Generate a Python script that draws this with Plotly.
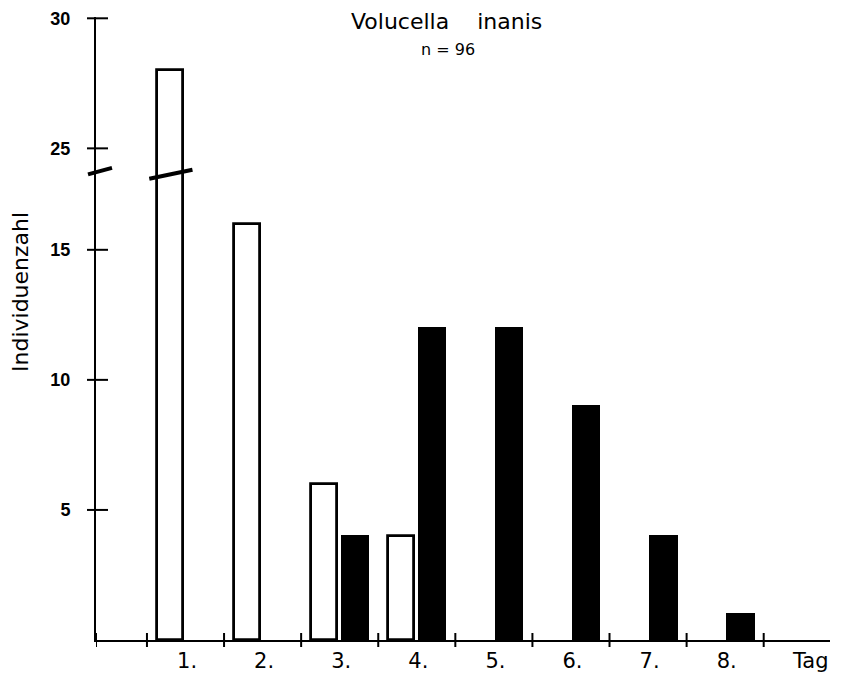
import plotly.graph_objects as go

# ---- data ----
days = [1, 2, 3, 4, 5, 6, 7, 8]
day_labels = ["1.", "2.", "3.", "4.", "5.", "6.", "7.", "8."]
white_days = [1, 2, 3, 4]
white_vals = [28, 16, 6, 4]
black_days = [3, 4, 5, 6, 7, 8]
black_vals = [4, 12, 12, 9, 4, 1]
y_tick_vals = [5, 10, 15, 25, 30]
title_text = "Volucella\u00a0\u00a0\u00a0\u00a0inanis"
subtitle_text = "n = 96"
x_title = "Tag"
y_title = "Individuenzahl"

# ---- broken y scale ----
BREAK_AT = 18      # axis position where the scale is interrupted
GAP = 6.1          # amount of value removed above the break


def ypos(v):
    return v if v <= BREAK_AT else v - GAP


WHITE_OFF, BLACK_OFF, BAR_W = 0.30, 0.70, 0.34
LABEL_SHIFT = 0.48
X_MIN, X_MAX = -0.661, 8.86
Y_MAX = ypos(30) + 0.05

fig = go.Figure()
fig.add_trace(go.Bar(
    x=[d - 1 + WHITE_OFF for d in white_days],
    y=[ypos(v) for v in white_vals],
    width=BAR_W,
    marker=dict(color="white", line=dict(color="black", width=2.8)),
    showlegend=False, hoverinfo="skip"))
fig.add_trace(go.Bar(
    x=[d - 1 + BLACK_OFF for d in black_days],
    y=[ypos(v) for v in black_vals],
    width=BAR_W,
    marker=dict(color="black", line=dict(color="black", width=2)),
    showlegend=False, hoverinfo="skip"))

shapes = []
# x ticks crossing the axis
for t in [X_MIN] + list(range(0, len(days) + 1)):
    shapes.append(dict(type="line", xref="x", yref="paper", ysizemode="pixel",
                       yanchor=0, x0=t, x1=t, y0=-7, y1=7,
                       line=dict(color="black", width=2)))
# y ticks crossing the axis
for v in y_tick_vals:
    shapes.append(dict(type="line", xref="paper", yref="y", xsizemode="pixel",
                       xanchor=0, x0=-9, x1=12, y0=ypos(v), y1=ypos(v),
                       line=dict(color="black", width=2)))
# break marks on the y axis and on the first bar
shapes.append(dict(type="line", xref="paper", yref="y", xsizemode="pixel",
                   xanchor=0, x0=-8, x1=16, y0=BREAK_AT - 0.1, y1=BREAK_AT + 0.15,
                   line=dict(color="black", width=4)))
bx = white_days[0] - 1 + WHITE_OFF
shapes.append(dict(type="line", xref="x", yref="y",
                   x0=bx - BAR_W / 2 - 0.1, x1=bx + BAR_W / 2 + 0.12,
                   y0=BREAK_AT - 0.27, y1=BREAK_AT + 0.08,
                   line=dict(color="black", width=4)))

tickvals = [d - LABEL_SHIFT for d in days] + [8.61]
ticktext = day_labels + [x_title]

fig.update_layout(
    width=841, height=680,
    margin=dict(l=96, r=11, t=17, b=40, autoexpand=False),
    paper_bgcolor="white", plot_bgcolor="white",
    barmode="overlay", bargap=0,
    shapes=shapes,
    font=dict(family="DejaVu Sans", color="black"),
    xaxis=dict(range=[X_MIN, X_MAX], showgrid=False, zeroline=False,
               automargin=False,
               showline=True, linecolor="black", linewidth=2,
               tickmode="array", tickvals=tickvals, ticktext=ticktext,
               ticks="", ticklabelstandoff=1,
               tickfont=dict(family="DejaVu Sans", size=21, color="black")),
    yaxis=dict(range=[0, Y_MAX], showgrid=False, zeroline=False,
               automargin=False,
               showline=True, linecolor="black", linewidth=2,
               tickmode="array", tickvals=[ypos(v) for v in y_tick_vals],
               ticktext=[str(v) for v in y_tick_vals],
               ticks="", ticklabelstandoff=20,
               tickfont=dict(family="Liberation Sans", size=18, color="black",
                             weight="bold")),
    annotations=[
        dict(text=title_text, xref="paper", yref="paper",
             x=(446 - 96) / 734, y=1.0, yanchor="middle", yshift=-4,
             showarrow=False, font=dict(family="DejaVu Sans", size=22)),
        dict(text=subtitle_text, xref="paper", yref="paper",
             x=(448 - 96) / 734, y=1.0, yanchor="middle", yshift=-32,
             showarrow=False, font=dict(family="DejaVu Sans", size=16)),
        dict(text=y_title, xref="paper", yref="paper", textangle=-90,
             x=0, xshift=-76, xanchor="center",
             y=(640 - 292) / 623, yanchor="middle",
             showarrow=False, font=dict(family="DejaVu Sans", size=22)),
    ],
)

fig.write_html("out.html")
